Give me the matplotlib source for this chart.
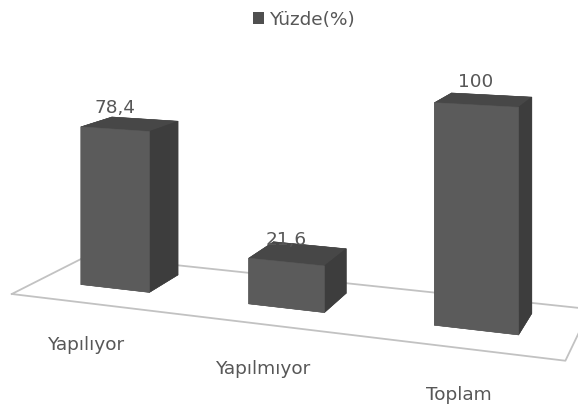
import numpy as np
import matplotlib
matplotlib.use('Agg')
import matplotlib.pyplot as plt
from matplotlib.patches import Patch

# ---------------- data ----------------
categories = ['Yapılıyor', 'Yapılmıyor', 'Toplam']
values = [78.4, 21.6, 100]
value_labels = ['78,4', '21,6', '100']
legend_label = 'Yüzde(%)'

# ---------------- style / geometry ----------------
FONT = ['DejaVu Sans']
FS = 13.3
TXT = '#575757'
FRONT, SIDE, TOP = '#5b5b5b', '#3d3d3d', '#474747'
FLOOR = '#c2c2c2'

bar_w, bar_d, bar_y0 = 0.42, 0.20, 0.13
floor_x = (-0.47, 2.48)
floor_y = (-0.03, 0.43)

# scene box (data units) and physical scale (camera-height units)
cat_unit = 0.50           # physical size of one category step
dep_unit = 0.421          # physical size of one depth unit
val_unit = 0.00527        # physical size of one value unit
xlim = (-0.432, -0.432 + 3.326 / cat_unit)
ylim = (-0.173, 0.430)
zlim = (0.0, 2.0 / val_unit)
eye_dist = 1.5            # physical distance eye -> box centre
F_PX = 687.0              # focal length in pixels
PP = (664.0, 502.0)       # principal point, figure pixels from bottom-left
CAL = 0.5                 # empirical eye-distance calibration

W, Hh = 578, 405
fig = plt.figure(figsize=(W / 100, Hh / 100), dpi=100)
ax = fig.add_axes([0, 0, 1, 1], projection='3d', computed_zorder=False)
ax.set_axis_off()

for setter, lim in ((ax.set_xlim, xlim), (ax.set_ylim, ylim), (ax.set_zlim, zlim)):
    try:
        setter(*lim, view_margin=0)
    except TypeError:
        setter(*lim)

phys = np.array([(xlim[1] - xlim[0]) * cat_unit,
                 (ylim[1] - ylim[0]) * dep_unit,
                 (zlim[1] - zlim[0]) * val_unit])
ax.set_box_aspect(phys)
s = np.linalg.norm(ax._box_aspect) / np.linalg.norm(phys)
f_mpl = eye_dist * s / ax._dist * CAL
ax.set_proj_type('persp', focal_length=f_mpl)
ax.view_init(elev=0, azim=-80)

vx0, vx1 = ax.viewLim.intervalx
vy0, vy1 = ax.viewLim.intervaly
size_px = F_PX * (vx1 - vx0) / f_mpl
left_px = PP[0] - (-vx0) / (vx1 - vx0) * size_px
bot_px = PP[1] - (-vy0) / (vy1 - vy0) * size_px
ax.set_position([left_px / W, bot_px / Hh, size_px / W, size_px / Hh])

# floor outline
fx = [floor_x[0], floor_x[1], floor_x[1], floor_x[0], floor_x[0]]
fy = [floor_y[0], floor_y[0], floor_y[1], floor_y[1], floor_y[0]]
ax.plot(fx, fy, [0] * 5, color=FLOOR, lw=1.3, zorder=1)

# bars
n = len(values)
xs = np.arange(n) - bar_w / 2
face_cols = []
for _ in range(n):
    # -z, +z, -y, +y, -x, +x
    face_cols += [FRONT, TOP, FRONT, SIDE, SIDE, SIDE]
ax.bar3d(xs, np.full(n, bar_y0), np.zeros(n), bar_w, bar_d, values,
         color=face_cols, shade=False, edgecolor=face_cols, linewidth=0.4,
         zorder=2)

# value labels
for i, (v, lab) in enumerate(zip(values, value_labels)):
    ax.text(i, bar_y0, v + 6, lab, ha='center', va='bottom',
            fontsize=FS, color=TXT, family=FONT, zorder=3)

# category labels
for i, c in enumerate(categories):
    ax.text(i - 0.02, floor_y[0], -20, c, ha='center', va='center',
            fontsize=FS, color=TXT, family=FONT, zorder=3)

fig.legend(handles=[Patch(facecolor='#4f4f4f', edgecolor='none')],
           labels=[legend_label], loc='center', bbox_to_anchor=(0.526, 0.951),
           frameon=False, handlelength=0.6, handleheight=0.6, handletextpad=0.3,
           borderpad=0, prop={'family': FONT, 'size': FS}, labelcolor=TXT)

fig.savefig('out.png', dpi=100)
